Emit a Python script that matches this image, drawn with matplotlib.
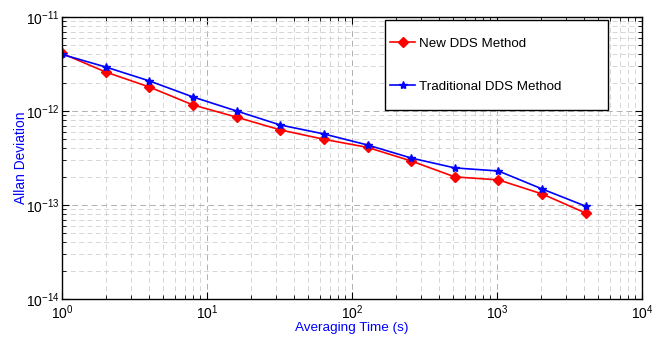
import matplotlib
matplotlib.use("Agg")
import matplotlib.pyplot as plt
from matplotlib.patches import Rectangle
from matplotlib.ticker import LogLocator, NullFormatter

plt.rcParams['font.family'] = ['Liberation Sans', 'DejaVu Sans']
plt.rcParams['mathtext.fontset'] = 'custom'
plt.rcParams['mathtext.rm'] = 'Liberation Sans'
plt.rcParams['mathtext.it'] = 'Liberation Sans'
plt.rcParams['mathtext.bf'] = 'Liberation Sans:bold'

tau = [1, 2, 4, 8, 16, 32, 64, 128, 256, 512, 1024, 2048, 4096]
new_dds = [4.1e-12, 2.6e-12, 1.8e-12, 1.16e-12, 8.6e-13, 6.3e-13, 5.0e-13,
           4.1e-13, 2.94e-13, 1.99e-13, 1.85e-13, 1.31e-13, 8.2e-14]
trad_dds = [4.0e-12, 2.94e-12, 2.09e-12, 1.41e-12, 1.0e-12, 7.1e-13, 5.7e-13,
            4.35e-13, 3.16e-13, 2.48e-13, 2.3e-13, 1.48e-13, 9.7e-14]

fig = plt.figure(figsize=(6.6, 3.37), dpi=100)
ax = fig.add_axes([62/660, 38/337, 580/660, 282/337])

ax.plot(tau, new_dds, color='red', marker='D', markersize=5, linewidth=1.2,
        label='New DDS Method')
ax.plot(tau, trad_dds, color='blue', marker='*', markersize=6, linewidth=1.2,
        label='Traditional DDS Method')

ax.set_xscale('log')
ax.set_yscale('log')
ax.set_xlim(1, 1e4)
ax.set_ylim(1e-14, 1e-11)

ax.xaxis.set_minor_locator(LogLocator(base=10, subs=range(2, 10), numticks=20))
ax.yaxis.set_minor_locator(LogLocator(base=10, subs=range(2, 10), numticks=20))
ax.xaxis.set_minor_formatter(NullFormatter())
ax.yaxis.set_minor_formatter(NullFormatter())

ax.grid(True, which='major', linestyle=(0, (6, 4)), color='#b0b0b0', linewidth=0.7)
ax.grid(True, which='minor', linestyle=(0, (6, 4)), color='#d0d0d0', linewidth=0.6)

ax.tick_params(which='both', direction='in', top=True, right=True, labelsize=10)
ax.tick_params(axis='y', which='major', length=5, pad=2)
ax.tick_params(axis='x', which='major', length=5, pad=3.5)
ax.tick_params(which='minor', length=3)
for s in ax.spines.values():
    s.set_linewidth(1.0)

ax.set_xlabel('Averaging Time (s)', color='blue', fontsize=9.7)
ax.set_ylabel('Allan Deviation', color='blue', fontsize=9.9)
ax.xaxis.set_label_coords(0.5, -0.083)
ax.yaxis.set_label_coords(-0.0586, 0.5)

# legend frame
box = Rectangle((323/580, 189/282), 223/580, 90/282, transform=ax.transAxes,
                facecolor='white', edgecolor='black', linewidth=1.0, zorder=4)
ax.add_patch(box)
leg = ax.legend(loc='center left', bbox_to_anchor=(328/580, 234/282), fontsize=9.6,
                frameon=False, handlelength=1.9, labelspacing=2.3,
                borderpad=0, handletextpad=0.25, borderaxespad=0)
leg.set_zorder(5)

fig.savefig('out.png', dpi=100)
